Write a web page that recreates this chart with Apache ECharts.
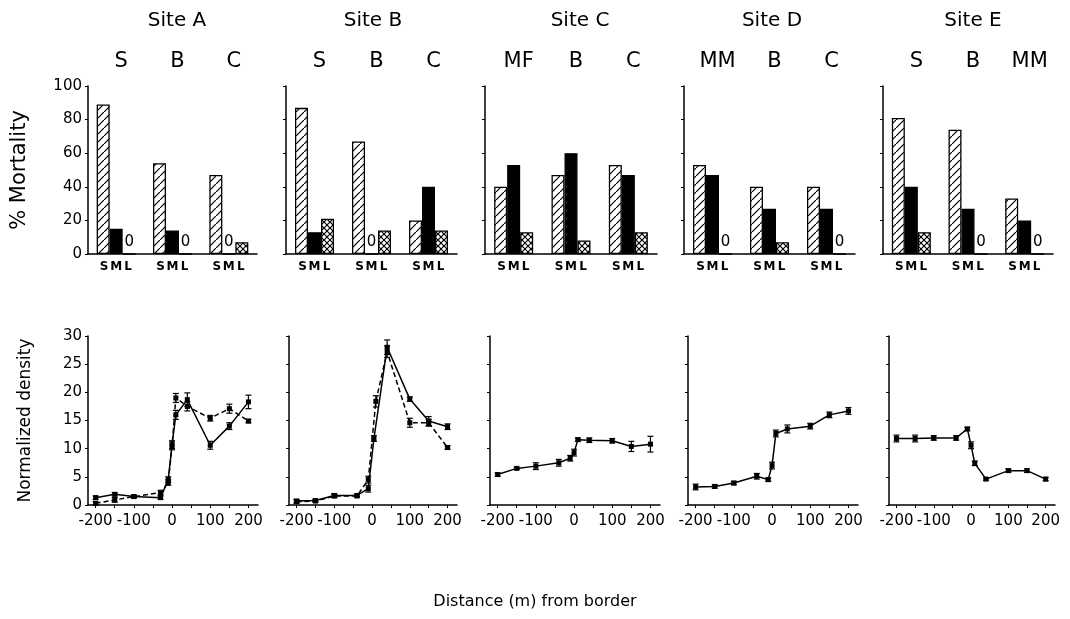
<!DOCTYPE html>
<html>
<head>
<meta charset="utf-8">
<script src="https://cdn.jsdelivr.net/npm/echarts@6/dist/echarts.min.js"></script>
<style>html,body{margin:0;background:#fff}#main{width:1070px;height:619px}</style>
</head>
<body>
<div id="main"></div>
<script>
"use strict";
// top row: % mortality by habitat and size class
const sites = ['Site A', 'Site B', 'Site C', 'Site D', 'Site E'];
const sizeClasses = ['S', 'M', 'L'];
const habitats = [['S','B','C'], ['S','B','C'], ['MF','B','C'], ['MM','B','C'], ['S','B','MM']];
const mortSmall = [[89,54,47], [87,67,20], [40,47,53], [53,40,40], [81,74,33]];
const mortMedium = [[15,14,0], [13,0,40], [53,60,47], [47,27,27], [40,27,20]];
const mortLarge = [[0,0,7], [21,14,14], [13,8,13], [0,7,0], [13,0,0]];

// bottom row: normalized density vs distance from border
const distAll = [-200,-150,-100,-40,-10,0,10,40,100,150,200];
const distA = [-200,-150,-100,-30,-10,0,10,40,100,150,200];
const distBsolid = [-200,-150,-100,-40,-10,5,40,100,150,200];
const distBdash = [-200,-150,-100,-40,-10,10,40,100,150,200];

const densAsolid = [1.3,1.9,1.5,1.3,4.5,10.7,16,18.7,10.6,14,18.3];
const errAsolid = [0.3,0.3,0.2,0.3,0.5,0.7,0.8,1.2,0.7,0.6,1.2];
const densAdash = [0.3,0.9,1.5,2.2,4.0,10.5,19,17.5,15.4,17.1,14.9];
const errAdash = [0.3,0.4,0.2,0.4,0.5,0.7,0.8,0.8,0.5,0.8,0.3];

const densBsolid = [0.7,0.8,1.7,1.7,2.9,11.8,28,18.8,14.9,13.9];
const errBsolid = [0.3,0.2,0.3,0.2,0.6,0.5,1.3,0.4,0.8,0.5];
const densBdash = [0.6,0.7,1.6,1.6,4.5,18.4,27.2,14.6,14.6,10.2];
const errBdash = [0.3,0.2,0.3,0.2,0.6,1.0,1.0,0.8,0.6,0.3];

const densC = [5.4,6.5,6.9,7.5,8.3,9.3,11.6,11.5,11.4,10.4,10.8];
const errC = [0.3,0.2,0.6,0.6,0.5,0.6,0.3,0.4,0.4,0.9,1.4];
const densD = [3.2,3.3,3.9,5.1,4.5,7.0,12.7,13.5,14.0,16.0,16.7];
const errD = [0.5,0.3,0.3,0.5,0.3,0.6,0.6,0.7,0.5,0.5,0.6];
const densE = [11.8,11.8,11.9,11.9,13.5,10.6,7.4,4.6,6.1,6.1,4.6];
const errE = [0.6,0.6,0.4,0.4,0.3,0.6,0.4,0.2,0.3,0.3,0.3];

const distLabels = [-200,-100,0,100,200];
const distTicks = [-200,-150,-100,-50,0,50,100,150,200];

// [x list, y list, error list, dashed?] per panel
const curves = [
  [[distA, densAsolid, errAsolid, false], [distA, densAdash, errAdash, true]],
  [[distBsolid, densBsolid, errBsolid, false], [distBdash, densBdash, errBdash, true]],
  [[distAll, densC, errC, false]],
  [[distAll, densD, errD, false]],
  [[distAll, densE, errE, false]]
];

// layout
const FONT = 'DejaVu Sans';
const titleX = [177, 373, 580, 772, 973];
const topLeft = [88, 286, 485, 684, 883];
const topWidth = [169, 171, 172, 171, 170];
const botLeft = [88, 289, 490, 688, 889];
const botWidth = [170, 168, 170, 170, 166];

function makePattern(size, cross) {
  const c = document.createElement('canvas');
  c.width = c.height = size;
  const g = c.getContext('2d');
  g.fillStyle = '#fff';
  g.fillRect(0, 0, size, size);
  g.strokeStyle = '#000';
  g.lineWidth = 1.2;
  g.beginPath();
  g.moveTo(-1, size + 1); g.lineTo(size + 1, -1);
  if (cross) {
    g.moveTo(-1, -1); g.lineTo(size + 1, size + 1);
  }
  g.stroke();
  return c;
}
const diagFill = {image: makePattern(8, false), repeat: 'repeat'};
const crossFill = {image: makePattern(6, true), repeat: 'repeat'};

let grid = [], xAxis = [], yAxis = [], series = [], title = [];

for (let i = 0; i < 5; i++) {
  title.push({text: sites[i], left: titleX[i], top: 11, textAlign: 'center', padding: 0,
    textStyle: {fontFamily: FONT, fontSize: 20, fontWeight: 'normal', color: '#000'}});

  // bar panel
  grid.push({left: topLeft[i], top: 86, width: topWidth[i], height: 168});
  xAxis.push({
    gridIndex: i, type: 'category', data: habitats[i],
    axisLine: {lineStyle: {color: '#000', width: 1.5}},
    axisTick: {show: false},
    axisLabel: {
      interval: 0, margin: 7, color: '#000',
      formatter: () => sizeClasses.map(s => '{s|' + s + '}').join(''),
      rich: {s: {width: 12, align: 'center', fontFamily: FONT, fontSize: 12, fontWeight: 'bold', color: '#000'}}
    }
  });
  xAxis.push({
    gridIndex: i, type: 'category', data: habitats[i], position: 'top',
    axisLine: {show: false}, axisTick: {show: false},
    axisLabel: {interval: 0, margin: 14, fontFamily: FONT, fontSize: 21, color: '#000', padding: [0, 0, 0, 10]}
  });
  yAxis.push({
    gridIndex: i, type: 'value', min: 0, max: 100, interval: 20,
    axisLine: {show: true, onZero: false, lineStyle: {color: '#000', width: 1.5}},
    axisTick: {show: true, length: 3, lineStyle: {color: '#000'}},
    splitLine: {show: false},
    axisLabel: {show: i === 0, fontFamily: FONT, fontSize: 15, color: '#000', margin: 6},
    name: i === 0 ? '% Mortality' : '', nameLocation: 'middle', nameGap: 58,
    nameTextStyle: {fontFamily: FONT, fontSize: 21, color: '#000'}
  });
  const zeroLabel = {
    show: true, position: 'top', distance: 4, color: '#000',
    fontFamily: FONT, fontSize: 15,
    formatter: p => (p.value === 0 ? '0' : '')
  };
  const barSets = [[mortSmall[i], diagFill], [mortMedium[i], '#000'], [mortLarge[i], crossFill]];
  barSets.forEach(([vals, fill], k) => {
    series.push({
      type: 'bar', name: sizeClasses[k], xAxisIndex: 2 * i, yAxisIndex: i,
      data: vals, barWidth: 13, barGap: '0%',
      itemStyle: {color: fill, borderColor: '#000', borderWidth: 1.3},
      label: zeroLabel
    });
  });
}

for (let i = 0; i < 5; i++) {
  const gi = 5 + i;
  grid.push({left: botLeft[i], top: 336, width: botWidth[i], height: 169});
  xAxis.push({
    gridIndex: gi, type: 'value', min: -220, max: 225,
    axisLine: {onZero: false, lineStyle: {color: '#000', width: 1.5}},
    axisTick: {show: true, length: 3, customValues: distTicks, lineStyle: {color: '#000'}},
    axisLabel: {customValues: distLabels, fontFamily: FONT, fontSize: 15, color: '#000', margin: 9},
    splitLine: {show: false}
  });
  yAxis.push({
    gridIndex: gi, type: 'value', min: 0, max: 30, interval: 5,
    axisLine: {show: true, onZero: false, lineStyle: {color: '#000', width: 1.5}},
    axisTick: {show: true, length: 3, lineStyle: {color: '#000'}},
    splitLine: {show: false},
    axisLabel: {show: i === 0, fontFamily: FONT, fontSize: 15, color: '#000', margin: 6},
    name: i === 0 ? 'Normalized density' : '', nameLocation: 'middle', nameGap: 54,
    nameTextStyle: {fontFamily: FONT, fontSize: 17, color: '#000'}
  });
  curves[i].forEach(([xs, ys, es, dashed]) => {
    series.push({
      type: 'line', xAxisIndex: 10 + i, yAxisIndex: gi,
      data: xs.map((x, k) => [x, ys[k]]),
      symbol: 'rect', symbolSize: 5, showSymbol: true,
      itemStyle: {color: '#000'},
      lineStyle: {color: '#000', width: 1.5, type: dashed ? [5, 3] : 'solid'}
    });
    series.push({
      type: 'custom', xAxisIndex: 10 + i, yAxisIndex: gi,
      data: xs.map((x, k) => [x, ys[k], es[k]]),
      renderItem: (params, api) => {
        const x = api.value(0), y = api.value(1), e = api.value(2);
        const hi = api.coord([x, y + e]), lo = api.coord([x, y - e]);
        const st = {stroke: '#000', lineWidth: 1.2};
        return {type: 'group', children: [
          {type: 'line', shape: {x1: hi[0], y1: hi[1], x2: lo[0], y2: lo[1]}, style: st},
          {type: 'line', shape: {x1: hi[0] - 3, y1: hi[1], x2: hi[0] + 3, y2: hi[1]}, style: st},
          {type: 'line', shape: {x1: lo[0] - 3, y1: lo[1], x2: lo[0] + 3, y2: lo[1]}, style: st}
        ]};
      },
      z: 3
    });
  });
}

title.push({text: 'Distance (m) from border', left: 535, top: 594, textAlign: 'center', padding: 0,
  textStyle: {fontFamily: FONT, fontSize: 16, fontWeight: 'normal', color: '#000'}});

const myChart = echarts.init(document.getElementById('main'));
myChart.setOption({
  animation: false,
  backgroundColor: '#fff',
  title: title,
  grid: grid,
  xAxis: xAxis,
  yAxis: yAxis,
  series: series
});
</script>
</body>
</html>
